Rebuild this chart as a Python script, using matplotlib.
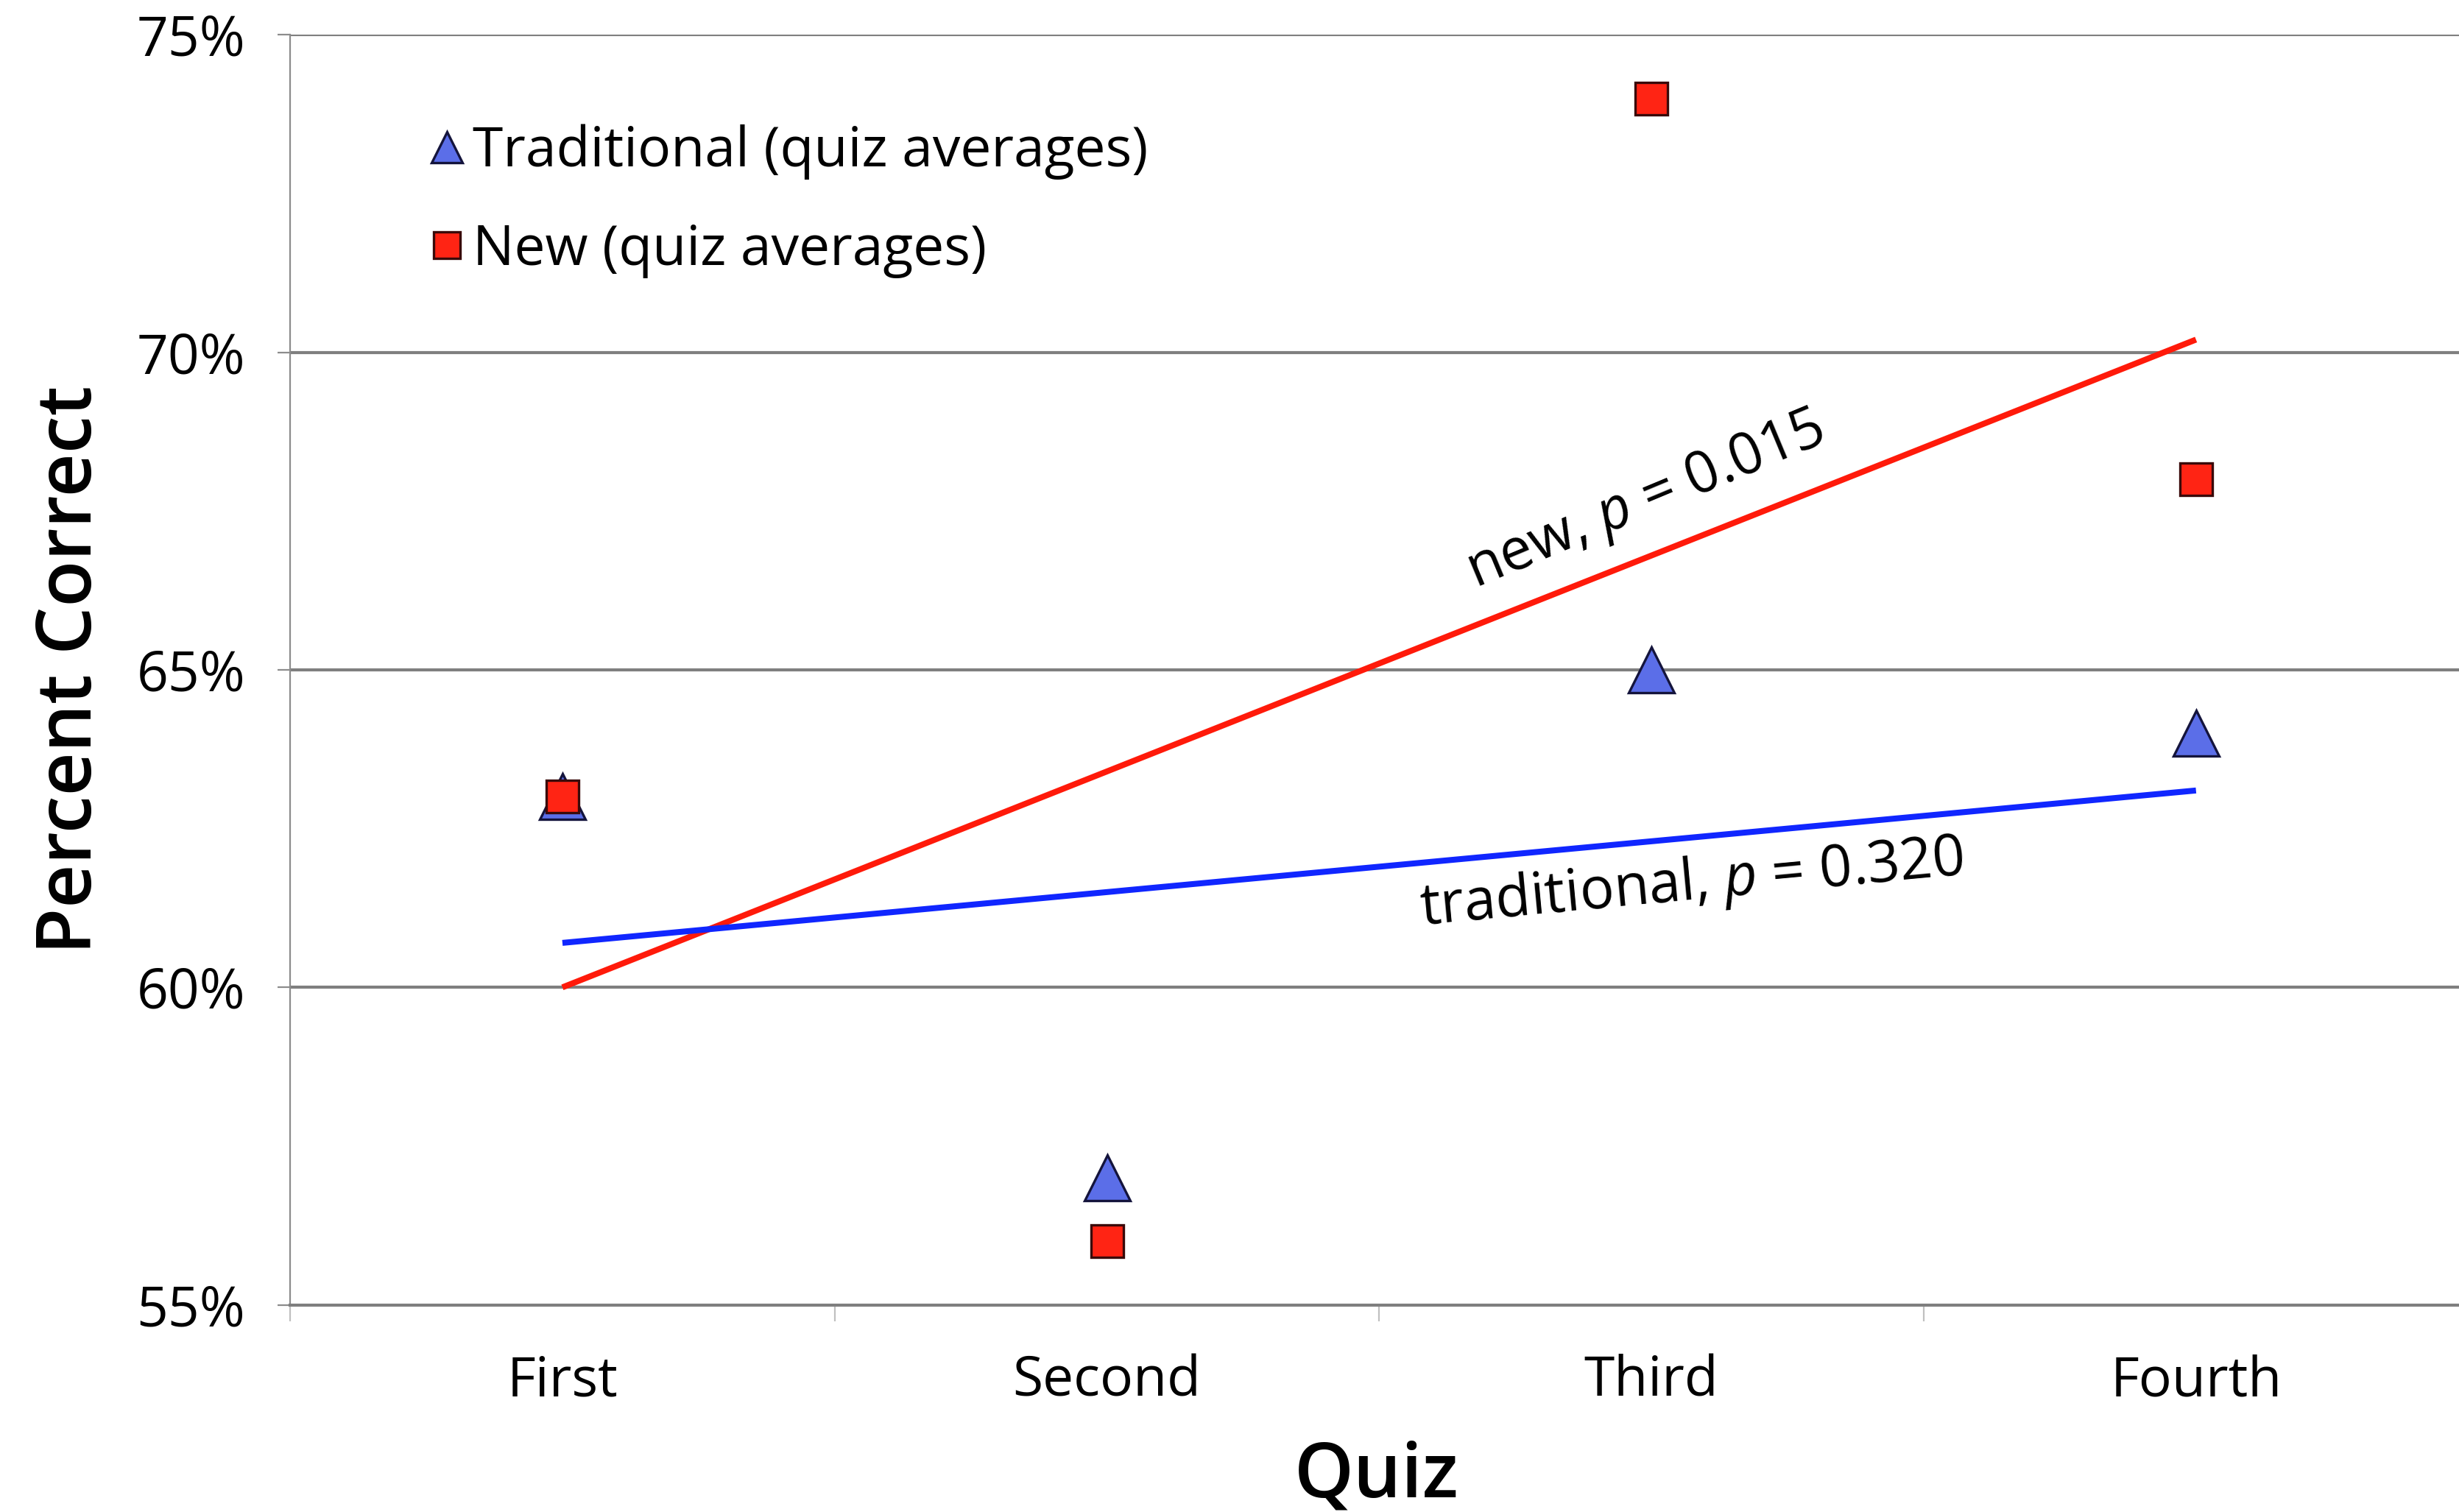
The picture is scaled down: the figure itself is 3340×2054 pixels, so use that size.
import numpy as np
import matplotlib
matplotlib.use("Agg")
import matplotlib.pyplot as plt
from matplotlib.lines import Line2D

plt.rcParams['font.family'] = ['Open Sans', 'DejaVu Sans']
plt.rcParams['mathtext.fontset'] = 'custom'
plt.rcParams['mathtext.rm'] = 'Open Sans'
plt.rcParams['mathtext.it'] = 'Open Sans:italic'

# quiz averages, percent correct
quizzes = ['First', 'Second', 'Third', 'Fourth']
traditional = [63.0, 57.0, 65.0, 64.0]
new = [63.0, 56.0, 74.0, 68.0]

# trend lines (value at first and last quiz) and their p-values
traditional_trend = [60.7, 63.1]
new_trend = [60.0, 70.2]
traditional_p = '0.320'
new_p = '0.015'

x = np.arange(len(quizzes)) + 0.5

fig = plt.figure(figsize=(16.7, 10.27), dpi=200)
ax = fig.add_axes([0.118, 0.137, 0.882, 0.840])
ax.set_xlim(0.004, 3.983)
ax.set_ylim(55, 75)

# horizontal gridlines
for yv in [60, 65, 70, 75]:
    ax.axhline(yv, color='#7f7f7f', lw=1.5, zorder=1)

for s in ['top', 'right']:
    ax.spines[s].set_visible(False)
ax.spines['left'].set_color('#8c8c8c')
ax.spines['left'].set_linewidth(0.8)
ax.spines['bottom'].set_color('#7f7f7f')
ax.spines['bottom'].set_linewidth(1.5)

ax.set_yticks([55, 60, 65, 70, 75])
ax.set_yticklabels([f'{v}%' for v in [55, 60, 65, 70, 75]])
ax.set_xticks(x)
ax.set_xticklabels(quizzes)
ax.set_xticks(np.arange(0, 4), minor=True)
ax.tick_params(axis='x', which='major', length=0, pad=24, labelsize=27)
ax.tick_params(axis='x', which='minor', length=8, width=0.8, color='#c0c0c0')
ax.tick_params(axis='y', length=6, width=0.8, color='#8c8c8c', pad=16, labelsize=27)

# trend lines
xe = [x[0], x[-1]]
ax.plot(xe, new_trend, color='#ff1a0a', lw=2.9, zorder=2, solid_capstyle='butt')
ax.plot(xe, traditional_trend, color='#1026ff', lw=2.9, zorder=2, solid_capstyle='butt')

# quiz averages
tri_style = dict(ls='none', marker='^', mfc='#5b6ee8', mec='#14143c', mew=1.2)
sq_style = dict(ls='none', marker='s', mfc='#ff2414', mec='#3a0a0a', mew=1.2)
ax.plot(x, traditional, ms=22, zorder=3, **tri_style)
ax.plot(x, new, ms=15.5, zorder=4, **sq_style)


def line_angle(y0, y1):
    p0 = ax.transData.transform((xe[0], y0))
    p1 = ax.transData.transform((xe[1], y1))
    return np.degrees(np.arctan2(p1[1] - p0[1], p1[0] - p0[0]))


ax.text(2.49, 67.65, f'new, $p$ = {new_p}', rotation=line_angle(*new_trend) + 1,
        rotation_mode='anchor', ha='center', va='center', fontsize=28)
ax.text(2.574, 61.62, f'traditional, $p$ = {traditional_p}',
        rotation=line_angle(*traditional_trend),
        rotation_mode='anchor', ha='center', va='center', fontsize=28)

handles = [Line2D([], [], ms=15, **tri_style), Line2D([], [], ms=13, **sq_style)]
ax.legend(handles, ['Traditional (quiz averages)', 'New (quiz averages)'],
          loc='upper left', bbox_to_anchor=(0.055, 0.947), frameon=False,
          fontsize=27, handlelength=0.55, handletextpad=0.2,
          labelspacing=0.78, borderaxespad=0)

ax.set_ylabel('Percent Correct', fontsize=37, fontweight='semibold', va='center', ha='center')
ax.yaxis.set_label_coords(-0.101, 0.5)
ax.set_xlabel('Quiz', fontsize=37, fontweight='semibold', va='center', ha='center')
ax.xaxis.set_label_coords(0.501, -0.1357)

fig.savefig('out.png', dpi=200, facecolor='white')
